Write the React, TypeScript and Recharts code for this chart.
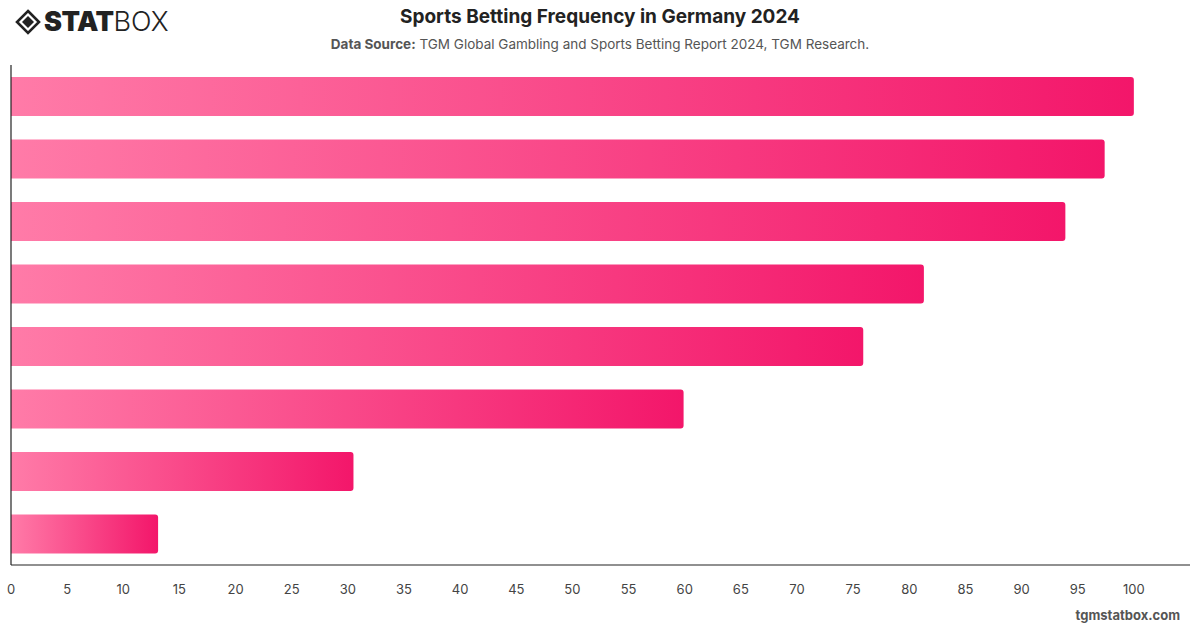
import React from "react";
import { BarChart, Bar, XAxis, YAxis } from "recharts";

// Share of respondents per betting-frequency group (index, top group = 100)
const groups = ["G1", "G2", "G3", "G4", "G5", "G6", "G7", "G8"];
const values = [100, 97.4, 93.9, 81.3, 75.9, 59.9, 30.5, 13.1];
const xTicks = [0, 5, 10, 15, 20, 25, 30, 35, 40, 45, 50, 55, 60, 65, 70, 75, 80, 85, 90, 95, 100];

const data = groups.map((g, i) => ({ name: g, value: values[i] }));

const FONT = "Inter, 'Helvetica Neue', Arial, sans-serif";

function Logo() {
  return (
    <svg width={170} height={40} style={{ position: "absolute", left: 12, top: 2 }}>
      <g transform="translate(16,20)">
        <polygon points="0,-11 11,0 0,11 -11,0" fill="none" stroke="#222" strokeWidth={2.6} />
        <polygon points="0,-6 6,0 0,6 -6,0" fill="#222" />
      </g>
      <text x={32} y={29} fontFamily={FONT} fontSize={27} fill="#222">
        <tspan fontWeight={900} letterSpacing={-0.5}>STAT</tspan>
        <tspan fontWeight={300}>BOX</tspan>
      </text>
    </svg>
  );
}

export default function App() {
  return (
    <div
      style={{
        position: "absolute",
        left: 0,
        top: 0,
        width: 1200,
        height: 628,
        background: "#fff",
        fontFamily: FONT,
        overflow: "hidden",
      }}
    >
      <Logo />
      <div
        style={{
          position: "absolute",
          left: 0,
          width: 1200,
          top: 5,
          textAlign: "center",
          fontSize: 19,
          fontWeight: 700,
          color: "#222",
        }}
      >
        Sports Betting Frequency in Germany 2024
      </div>
      <div
        style={{
          position: "absolute",
          left: 0,
          width: 1200,
          top: 36,
          textAlign: "center",
          fontSize: 13.5,
          color: "#555",
        }}
      >
        <b>Data Source:</b> TGM Global Gambling and Sports Betting Report 2024, TGM Research.
      </div>
      <div
        style={{
          position: "absolute",
          right: 20,
          top: 607,
          fontSize: 13,
          fontWeight: 700,
          color: "#555",
        }}
      >
        tgmstatbox.com
      </div>
      <div style={{ position: "absolute", left: 0, top: 0 }}>
        <BarChart
          width={1200}
          height={628}
          data={data}
          layout="vertical"
          margin={{ top: 65, right: 10, bottom: 33, left: 10 }}
          barSize={39}
        >
          <defs>
            <linearGradient id="barGrad" x1="0" y1="0" x2="1" y2="0">
              <stop offset="0%" stopColor="#ff7ba8" />
              <stop offset="100%" stopColor="#f3166a" />
            </linearGradient>
          </defs>
          <XAxis
            type="number"
            domain={[0, 105]}
            ticks={xTicks}
            interval={0}
            tickLine={false}
            axisLine={{ stroke: "#222", strokeWidth: 1.2 }}
            tick={{ fontSize: 13, fill: "#444", fontFamily: FONT }}
            tickMargin={14}
          />
          <YAxis
            type="category"
            dataKey="name"
            width={1}
            tick={false}
            tickLine={false}
            axisLine={{ stroke: "#222", strokeWidth: 1.2 }}
          />
          <Bar
            dataKey="value"
            fill="url(#barGrad)"
            radius={[0, 3, 3, 0]}
            isAnimationActive={false}
          />
        </BarChart>
      </div>
    </div>
  );
}
